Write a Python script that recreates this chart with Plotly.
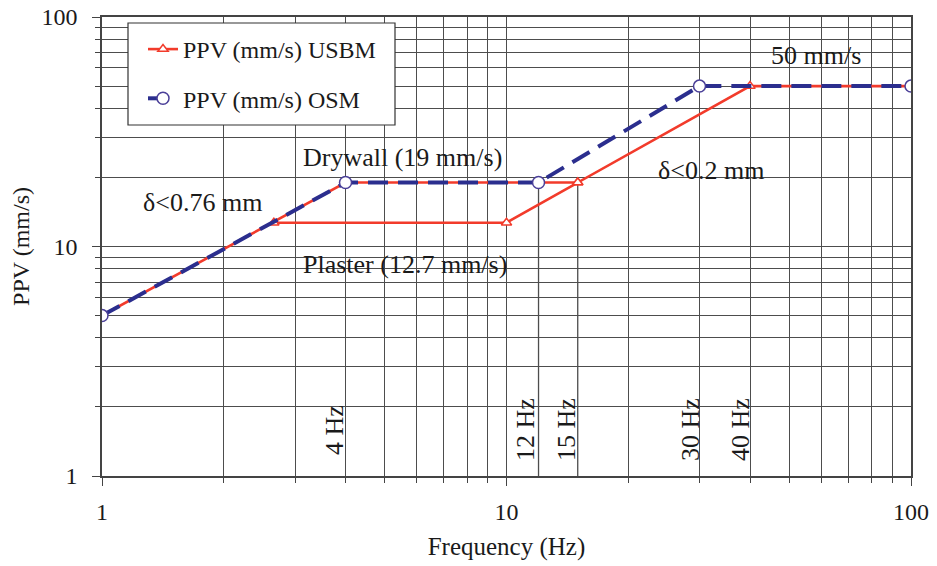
import plotly.graph_objects as go

# ---------------- data ----------------
usbm_drywall_f = [1, 4, 15, 40, 100]
usbm_drywall_v = [5, 19, 19, 50, 50]
usbm_plaster_f = [2.66, 10, 15]
usbm_plaster_v = [12.7, 12.7, 19]
osm_f = [1, 4, 12, 30, 100]
osm_v = [5, 19, 19, 50, 50]
marker_freqs = [12, 15]          # extra vertical reference lines
marker_top = 19
rot_labels = ["4 Hz", "12 Hz", "15 Hz", "30 Hz", "40 Hz"]
x_ticks = [1, 10, 100]
y_ticks = [1, 10, 100]

# ---------------- layout helpers ----------------
W, H = 937, 566
OFF = 8                      # default body margin of the html page
L, R, T, B = 102, 911, 17, 476
def px(x):
    return (x - L) / (R - L)
def py(y):
    return (B - y) / (B - T)

FONT = "Liberation Serif"
RED = "#f23b2b"
BLUE = "#2b2e8e"
GRID = "#4d4d4d"
TXT = "#1a1a1a"

fig = go.Figure()

usbm_x = usbm_drywall_f + [None] + usbm_plaster_f
usbm_y = usbm_drywall_v + [None] + usbm_plaster_v
fig.add_trace(go.Scatter(
    x=usbm_x, y=usbm_y, mode="lines+markers", name="PPV (mm/s) USBM",
    legendgroup="a", connectgaps=False,
    line=dict(color=RED, width=2.6),
    marker=dict(symbol="triangle-up", size=9, color="white",
                line=dict(color=RED, width=1.5)),
))
fig.add_trace(go.Scatter(
    x=osm_f, y=osm_v, mode="lines+markers", name="PPV (mm/s) OSM",
    legendgroup="b",
    line=dict(color=BLUE, width=4, dash="20px,10px"),
    marker=dict(symbol="circle", size=12, color="white",
                line=dict(color="#4a3f98", width=1.5)),
))

shapes = []
# extra vertical reference lines (12 Hz, 15 Hz)
for f in marker_freqs:
    shapes.append(dict(type="line", xref="x", yref="y",
                       x0=f, x1=f, y0=y_ticks[0], y1=marker_top,
                       line=dict(color=GRID, width=1.3), layer="between"))
# white label backgrounds
for (x0, x1, y0, y1) in [(297, 515, 130, 179), (104, 296, 179, 222),
                         (297, 537, 241, 290), (647, 775, 145, 190),
                         (760, 873, 35, 73)]:
    shapes.append(dict(type="rect", xref="paper", yref="paper",
                       x0=px(x0), x1=px(x1), y0=py(y1), y1=py(y0),
                       fillcolor="white", line=dict(width=0), layer="between"))
# legend box
shapes.append(dict(type="rect", xref="paper", yref="paper",
                   x0=px(128), x1=px(395), y0=py(125), y1=py(23),
                   fillcolor="white", line=dict(color="#333", width=1.2),
                   layer="above"))

ann = []
def label(text, x, y, angle=0, size=26):
    ann.append(dict(text=text, xref="paper", yref="paper", x=px(x), y=py(y),
                    showarrow=False, textangle=angle,
                    font=dict(family=FONT, size=size, color=TXT),
                    xanchor="center", yanchor="middle"))

label("Drywall (19 mm/s)", 402, 157)
label("δ<0.76 mm", 202, 202)
label("Plaster (12.7 mm/s)", 405, 264)
label("δ<0.2 mm", 711, 171)
label("50 mm/s", 816, 55)
for t, x in zip(rot_labels, [334, 525, 566, 690, 740]):
    label(t, x, 430, -90)

axis_common = dict(
    type="log", range=[0, 2], showgrid=True, gridcolor=GRID, gridwidth=1.4,
    showline=True, linecolor="#444", linewidth=1.6, mirror=True,
    ticks="outside", ticklen=8, tickcolor="#444", automargin=False,
    ticklabeloverflow="allow",
    tickfont=dict(family=FONT, size=24, color=TXT),
    minor=dict(dtick="D1", showgrid=True, gridcolor=GRID, gridwidth=1.1,
               griddash="solid",
               ticks="outside", ticklen=5, tickcolor="#444"),
    zeroline=False,
)

fig.update_layout(
    width=W - OFF, height=H - OFF,
    margin=dict(l=L - OFF, r=W - R, t=T - OFF, b=H - B),
    paper_bgcolor="white", plot_bgcolor="white",
    font=dict(family=FONT, size=24, color=TXT),
    xaxis=dict(axis_common, tickvals=x_ticks, ticktext=[str(v) for v in x_ticks],
               ticklabelstandoff=5,
               title=dict(text="Frequency (Hz)", font=dict(family=FONT, size=25),
                          standoff=14)),
    yaxis=dict(axis_common, tickvals=y_ticks, ticktext=[str(v) for v in y_ticks],
               griddash="5px,4px", ticklabelstandoff=10,
               title=dict(text="PPV (mm/s)", font=dict(family=FONT, size=24),
                          standoff=24)),
    showlegend=True,
    legend=dict(x=px(143), y=py(27), xanchor="left", yanchor="top",
                bgcolor="rgba(0,0,0,0)", borderwidth=0,
                traceorder="grouped", tracegroupgap=15,
                font=dict(family=FONT, size=24, color=TXT)),
    shapes=shapes, annotations=ann,
)

fig.write_html("out.html")
